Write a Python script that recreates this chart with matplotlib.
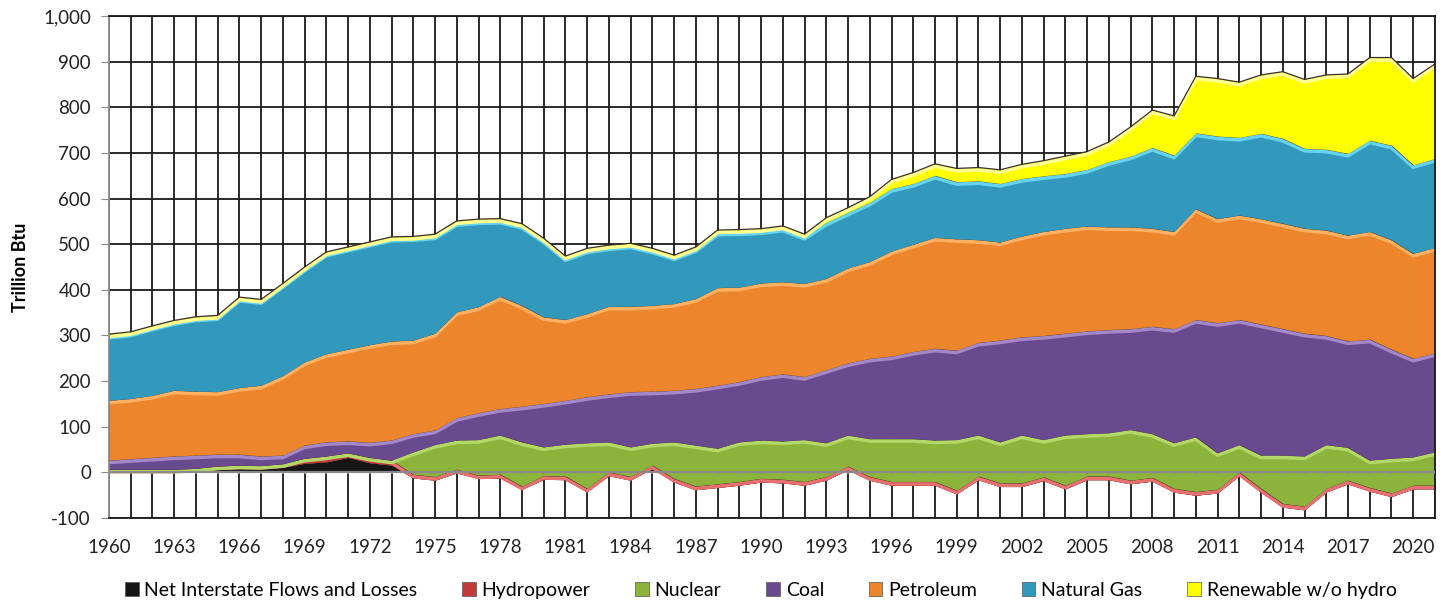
# stacked area chart of energy consumption by source, 1960-2021

import matplotlib
matplotlib.use('Agg')
import matplotlib.pyplot as plt
import matplotlib.transforms as mtransforms
from matplotlib.ticker import FuncFormatter, MultipleLocator, FixedLocator
from matplotlib.patches import Patch

years = list(range(1960, 2022))
year_labels = list(range(1960, 2021, 3))

net_flows = [0, 0, 0, 0, 2, 7, 9, 9, 11, 20, 23, 33, 21, 16,
             -12, -17, -1, -13, -12, -37, -15, -16, -42, -7, -17, 9, -21, -38,
             -33, -28, -21, -23, -28, -17, 6, -17, -28, -28, -28, -47, -16, -31,
             -31, -18, -36, -16, -16, -25, -19, -43, -50, -45, -7, -43, -76, -82,
             -43, -25, -41, -53, -36, -36]
hydro = [7, 7, 7, 7, 7, 7, 7, 6, 8, 11, 13, 10, 12, 11,
         8, 8, 8, 7, 8, 7, 8, 8, 7, 8, 8, 7, 8, 8,
         8, 8, 8, 8, 8, 8, 8, 8, 8, 8, 8, 8, 8, 8,
         8, 8, 8, 8, 8, 8, 8, 8, 8, 8, 8, 8, 8, 8,
         8, 8, 8, 8, 8, 8]
nuclear = [0, 0, 0, 0, 0, 0, 0, 0, 0, 0, 0, 0, 0, 0,
           49, 70, 64, 78, 86, 97, 63, 70, 100, 66, 65, 48, 80, 90,
           78, 87, 84, 84, 92, 74, 68, 83, 94, 94, 91, 111, 90, 90,
           105, 82, 110, 93, 95, 111, 96, 100, 120, 80, 60, 73, 106, 110,
           96, 72, 60, 76, 62, 73]
coal = [20, 23, 26, 29, 29, 26, 24, 21, 19, 29, 31, 26, 33, 44,
        40, 32, 49, 59, 58, 78, 95, 96, 101, 105, 121, 114, 113, 124,
        138, 132, 139, 147, 138, 160, 158, 176, 181, 191, 201, 196, 203, 223,
        215, 228, 223, 225, 226, 221, 235, 250, 257, 285, 274, 287, 277, 269,
        239, 233, 265, 239, 216, 217]
petroleum = [131, 132, 136, 144, 140, 137, 146, 155, 174, 182, 193, 201, 214, 217,
             205, 212, 232, 232, 246, 221, 190, 177, 182, 192, 187, 188, 190, 197,
             214, 207, 205, 202, 204, 200, 208, 212, 230, 235, 243, 244, 225, 215,
             221, 228, 230, 230, 225, 223, 215, 213, 243, 228, 229, 231, 231, 230,
             231, 232, 236, 240, 230, 231]
natural_gas = [142, 143, 149, 150, 160, 164, 195, 185, 199, 205, 220, 221, 222, 225,
               224, 213, 195, 188, 166, 175, 168, 135, 139, 130, 134, 121, 102, 109,
               121, 121, 114, 117, 103, 123, 122, 130, 137, 133, 136, 125, 129, 128,
               126, 122, 120, 124, 143, 155, 177, 167, 166, 181, 170, 187, 186, 175,
               177, 179, 200, 207, 194, 195]
renewable = [3, 3, 3, 3, 3, 3, 3, 3, 3, 3, 3, 3, 3, 3,
             3, 4, 4, 4, 4, 4, 4, 4, 4, 4, 4, 4, 4, 4,
             5, 5, 5, 5, 5, 10, 10, 12, 20, 24, 25, 29, 29, 30,
             31, 33, 38, 39, 43, 64, 82, 86, 124, 126, 121, 128, 146, 151,
             163, 174, 181, 192, 189, 207]

series = [
    ('Net Interstate Flows and Losses', net_flows, '#151515', None),
    ('Hydropower', hydro, '#c23a3a', '#e87070'),
    ('Nuclear', nuclear, '#8cb43c', '#b4d868'),
    ('Coal', coal, '#6a4a8e', '#a387c8'),
    ('Petroleum', petroleum, '#ec852c', '#ffb060'),
    ('Natural Gas', natural_gas, '#3299bd', '#66d4f0'),
    ('Renewable w/o hydro', renewable, '#ffff00', '#ffff90'),
]

plt.rcParams['font.family'] = ['Lato', 'DejaVu Sans']

fig = plt.figure(figsize=(14.49, 6.0), dpi=100)
ax = fig.add_axes([0.0752, 0.1367, 0.9151, 0.8366])

# grid behind everything
ax.set_axisbelow(True)
ax.xaxis.set_major_locator(FixedLocator(year_labels))
ax.xaxis.set_minor_locator(MultipleLocator(1))
ax.yaxis.set_major_locator(MultipleLocator(100))
ax.grid(True, which='both', axis='x', color='#1a1a1a', lw=1.3)
ax.grid(True, which='major', axis='y', color='#1a1a1a', lw=1.3)

# highlight line sits a couple of pixels under each top edge
shift = mtransforms.offset_copy(ax.transData, fig=fig, x=0, y=-2.5, units='dots')

bottom = [0] * len(years)
for name, vals, col, light in series:
    top = [b + v for b, v in zip(bottom, vals)]
    # excel style stacking: every series starts from the previous total
    base = [0] * len(years) if light is None else bottom
    ax.fill_between(years, base, top, color=col, lw=0, zorder=2)
    if light is not None:
        ax.plot(years, top, color=light, lw=2.5, transform=shift, zorder=2,
                solid_joinstyle='round')
    ax.plot(years, top, color='#3b2e28', lw=0.9, zorder=2)
    bottom = top

# category axis line at zero with small ticks
ax.axhline(0, color='#8a8a8a', lw=1.6, zorder=10)
ax.vlines(years, -4, 0, color='#8a8a8a', lw=1.2, zorder=10)

ax.set_xlim(1960, 2021)
ax.set_ylim(-100, 1000)
ax.yaxis.set_major_formatter(FuncFormatter(lambda v, p: f'{int(v):,}'))
ax.tick_params(axis='y', which='major', length=6, color='#8a8a8a',
               labelsize=13.5, pad=7, labelcolor='#222222')
ax.tick_params(axis='x', which='both', length=0, labelsize=13.5, pad=15,
               labelcolor='#222222')

for s in ['top', 'right', 'bottom']:
    ax.spines[s].set_color('#1a1a1a')
    ax.spines[s].set_linewidth(1.3)
ax.spines['left'].set_color('#8a8a8a')
ax.spines['left'].set_linewidth(1.3)

ax.set_ylabel('Trillion Btu', fontsize=13, fontweight='bold', labelpad=10)

handles = [Patch(facecolor=col, edgecolor='#555555', lw=0.5, label=name)
           for name, vals, col, light in series]
fig.legend(handles=handles, loc='lower center', ncol=7, frameon=False,
           fontsize=14, handlelength=0.7, handleheight=0.7,
           handletextpad=0.3, columnspacing=2.3, bbox_to_anchor=(0.525, -0.027))

fig.savefig('out.png', dpi=100)
